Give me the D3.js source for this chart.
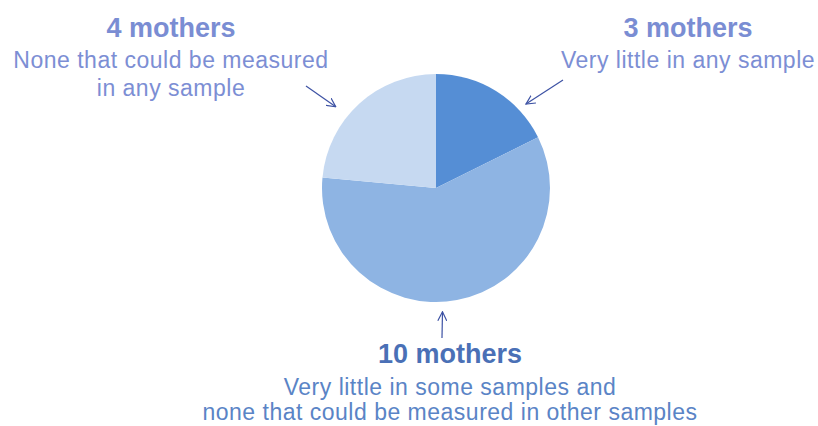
<!DOCTYPE html>
<html>
<head>
<meta charset="utf-8">
<script src="https://cdn.jsdelivr.net/npm/d3@7"></script>
<style>
    body { margin: 0; background: #fff; }
    #chart { width: 818px; height: 426px; }
    text { font-family: "Liberation Sans", Arial, sans-serif; }
</style>
</head>
<body>
<div id="chart"></div>
<script>
// data
const groups = ["3 mothers", "10 mothers", "4 mothers"];
const counts = [3, 10, 4];
const descriptions = [
    ["Very little in any sample"],
    ["Very little in some samples and", "none that could be measured in other samples"],
    ["None that could be measured", "in any sample"]
];
const sliceColors = ["#558ed5", "#8eb4e3", "#c6d9f1"];

const width = 818, height = 426;
const center = {x: 436, y: 188}, radius = 114;

// label placement: text block centre, heading baseline, arrow tip (polar, deg from north) and tail
const labelLayout = [
    {x: 688, y: 36.5, gap: 27.5, head: "#7a8dd3", body: "#7c8ed4", tipAngle: 47, tipDist: 123, tail: [563, 80]},
    {x: 450, y: 363, gap: 25.5, head: "#4a70b6", body: "#5a84c6", tipAngle: 177, tipDist: 124, tail: [442, 338]},
    {x: 171, y: 36.5, gap: 27.5, head: "#7a8dd3", body: "#7c8ed4", tipAngle: 309, tipDist: 129, tail: [306, 86]}
];

const svg = d3.select("#chart").append("svg")
    .attr("width", width)
    .attr("height", height);

svg.append("defs").append("marker")
    .attr("id", "arrowhead")
    .attr("viewBox", "0 -5 10 10")
    .attr("refX", 9)
    .attr("refY", 0)
    .attr("markerWidth", 10)
    .attr("markerHeight", 10)
    .attr("markerUnits", "userSpaceOnUse")
    .attr("orient", "auto")
    .append("path")
    .attr("d", "M0,-4.5L9,0L0,4.5")
    .attr("fill", "none")
    .attr("stroke", "#3d52a4")
    .attr("stroke-width", 1.2);

const pie = d3.pie().sort(null).value(function (d) { return d; });
const arc = d3.arc().innerRadius(0).outerRadius(radius);

const color = d3.scaleOrdinal().domain(groups).range(sliceColors);

svg.append("g")
    .attr("transform", "translate(" + center.x + "," + center.y + ")")
    .selectAll("path")
    .data(pie(counts))
    .enter().append("path")
    .attr("d", arc)
    .attr("fill", function (d, i) { return color(groups[i]); });

// annotations
const labels = svg.append("g");

groups.forEach(function (name, i) {
    const lay = labelLayout[i];
    const a = lay.tipAngle * Math.PI / 180;
    const tip = [center.x + lay.tipDist * Math.sin(a), center.y - lay.tipDist * Math.cos(a)];

    labels.append("line")
        .attr("x1", lay.tail[0])
        .attr("y1", lay.tail[1])
        .attr("x2", tip[0])
        .attr("y2", tip[1])
        .attr("stroke", "#3d52a4")
        .attr("stroke-width", 1.2)
        .attr("marker-end", "url(#arrowhead)");

    labels.append("text")
        .attr("x", lay.x)
        .attr("y", lay.y)
        .attr("text-anchor", "middle")
        .style("font-size", "27px")
        .style("font-weight", "bold")
        .attr("fill", lay.head)
        .text(name);

    descriptions[i].forEach(function (line, j) {
        labels.append("text")
            .attr("x", lay.x)
            .attr("y", lay.y + 31.5 + j * lay.gap)
            .attr("text-anchor", "middle")
            .style("font-size", "23px")
            .style("letter-spacing", "0.5px")
            .attr("fill", lay.body)
            .text(line);
    });
});
</script>
</body>
</html>
